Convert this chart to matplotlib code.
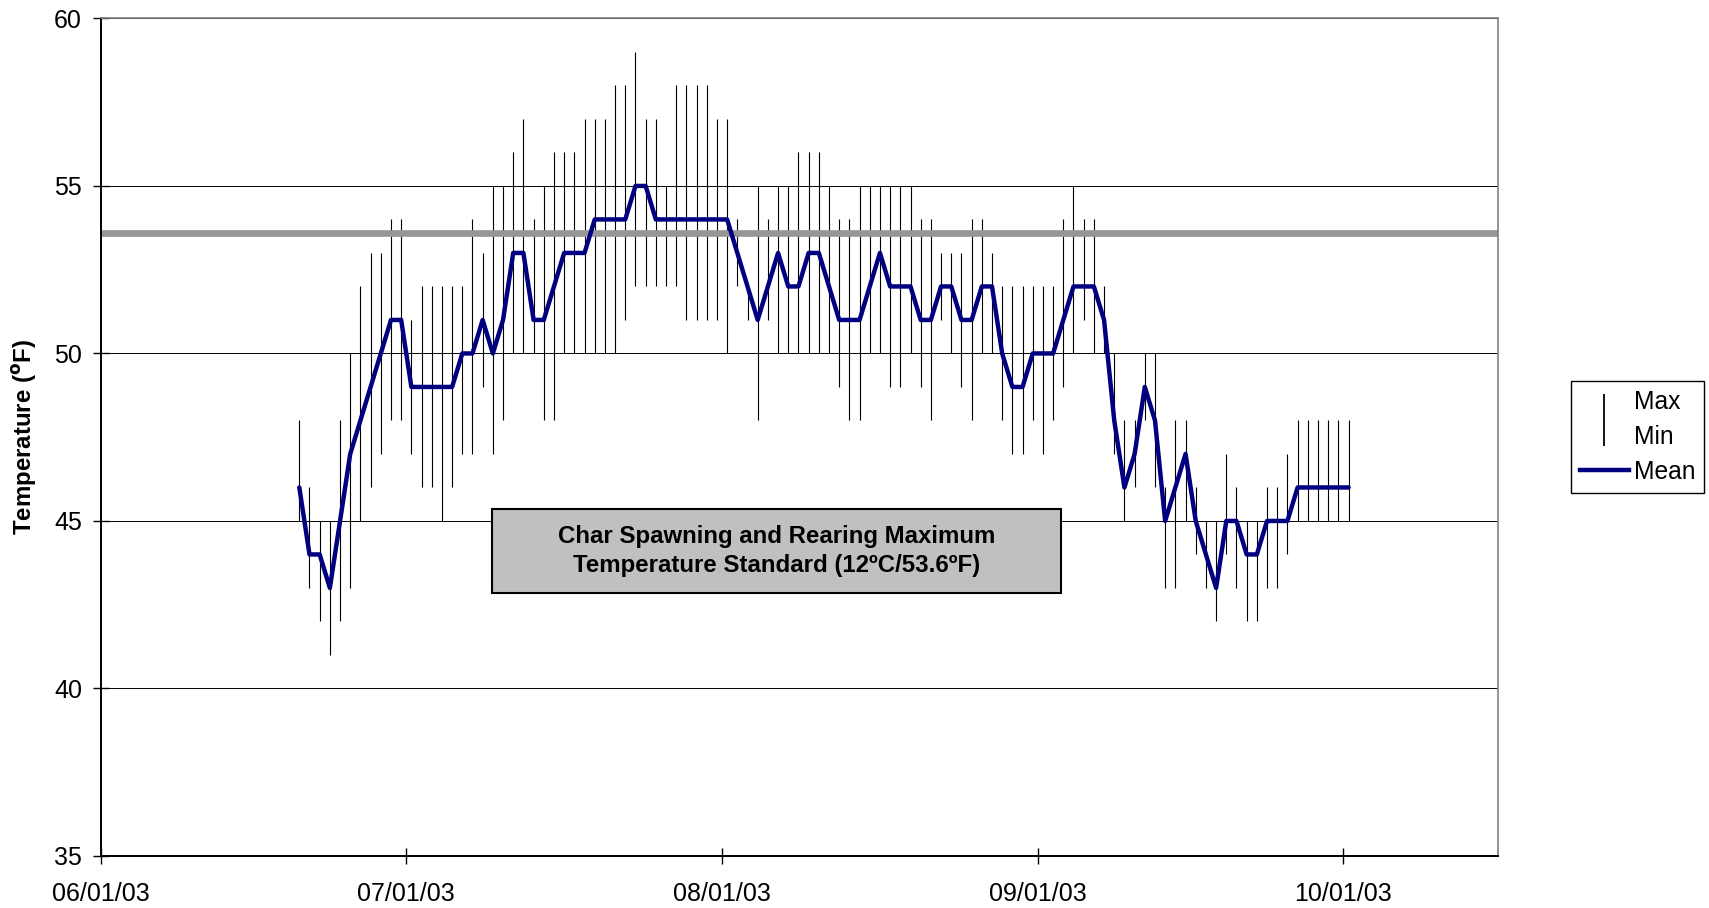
import numpy as np
import pandas as pd
import matplotlib
matplotlib.use('Agg')
import matplotlib.pyplot as plt
import matplotlib.dates as mdates
from matplotlib.lines import Line2D
from matplotlib.patches import Rectangle

plt.rcParams['font.family'] = ['Liberation Sans', 'DejaVu Sans']

# daily water temperatures (deg F), 06/20/03 - 10/01/03
start_date = '2003-06-20 12:00'
max_temp = [48, 46, 45, 45, 48, 50, 52, 53, 53, 54,
            54, 51, 52, 52, 52, 52, 52, 54, 53, 55,
            55, 56, 57, 54, 55, 56, 56, 56, 57, 57,
            57, 58, 58, 59, 57, 57, 55, 58, 58, 58,
            58, 57, 57, 54, 52, 55, 54, 55, 55, 56,
            56, 56, 55, 54, 54, 55, 55, 55, 55, 55,
            55, 54, 54, 53, 53, 53, 54, 54, 53, 52,
            52, 52, 52, 52, 52, 54, 55, 54, 54, 52,
            50, 48, 48, 50, 50, 46, 48, 48, 46, 45,
            45, 47, 46, 45, 45, 46, 46, 47, 48, 48,
            48, 48, 48, 48]
min_temp = [45, 43, 42, 41, 42, 43, 45, 46, 47, 48,
            48, 47, 46, 46, 45, 46, 47, 47, 49, 47,
            48, 50, 50, 50, 48, 48, 50, 50, 50, 50,
            50, 50, 51, 52, 52, 52, 52, 52, 51, 51,
            51, 51, 50, 52, 51, 48, 51, 50, 50, 50,
            50, 50, 50, 49, 48, 48, 50, 50, 49, 49,
            50, 49, 48, 51, 50, 49, 48, 50, 50, 48,
            47, 47, 48, 47, 48, 49, 50, 51, 50, 50,
            47, 45, 46, 48, 46, 43, 43, 45, 44, 43,
            42, 44, 43, 42, 42, 43, 43, 44, 45, 45,
            45, 45, 45, 45]
mean_temp = [46, 44, 44, 43, 45, 47, 48, 49, 50, 51,
             51, 49, 49, 49, 49, 49, 50, 50, 51, 50,
             51, 53, 53, 51, 51, 52, 53, 53, 53, 54,
             54, 54, 54, 55, 55, 54, 54, 54, 54, 54,
             54, 54, 54, 53, 52, 51, 52, 53, 52, 52,
             53, 53, 52, 51, 51, 51, 52, 53, 52, 52,
             52, 51, 51, 52, 52, 51, 51, 52, 52, 50,
             49, 49, 50, 50, 50, 51, 52, 52, 52, 51,
             48, 46, 47, 49, 48, 45, 46, 47, 45, 44,
             43, 45, 45, 44, 44, 45, 45, 45, 46, 46,
             46, 46, 46, 46]
standard_f = 53.6
standard_label = 'Char Spawning and Rearing Maximum\nTemperature Standard (12ºC/53.6ºF)'
month_ticks = ['2003-06-01', '2003-07-01', '2003-08-01', '2003-09-01', '2003-10-01']

dates = pd.date_range(start_date, periods=len(mean_temp), freq='D')

fig = plt.figure(figsize=(17.09, 9.08), dpi=100)
ax = fig.add_axes([0.0589, 0.0573, 0.8178, 0.9224])

# hi-lo bars, standard line, mean line
ax.vlines(dates, min_temp, max_temp, color='black', lw=0.8, zorder=2)
ax.axhline(standard_f, color='#969696', lw=4.8, zorder=2.5)
ax.plot(dates, mean_temp, color='#000080', lw=3.2, zorder=3,
        solid_joinstyle='round', solid_capstyle='round')

ax.set_ylim(35, 60)
ax.set_yticks(range(35, 61, 5))
x0 = pd.Timestamp('2003-06-01')
ax.set_xlim(x0, x0 + pd.Timedelta(days=137.2))
ax.set_xticks(pd.to_datetime(month_ticks))
ax.xaxis.set_major_formatter(mdates.DateFormatter('%m/%d/%y'))
ax.yaxis.grid(True, color='black', lw=0.7)
ax.set_axisbelow(True)

ax.tick_params(axis='both', direction='inout', length=11, width=1, labelsize=18)
ax.tick_params(axis='x', pad=13.5)
ax.tick_params(axis='y', pad=8)
for s in ['left', 'bottom']:
    ax.spines[s].set_linewidth(1.4)
for s in ['top', 'right']:
    ax.spines[s].set_color('#808080')
    ax.spines[s].set_linewidth(1.2)

ax.set_ylabel(r'Temperature ($\mathbf{^o}$F)', fontsize=17.3, fontweight='bold')
ax.yaxis.set_label_coords(-0.044, 0.5)

# standard annotation box
ax.add_patch(Rectangle((0.280, 0.314), 0.407, 0.100, transform=ax.transAxes,
                       facecolor='#C0C0C0', edgecolor='black', lw=1.5, zorder=4))
ax.text(0.4835, 0.364, standard_label, transform=ax.transAxes, ha='center', va='center',
        fontsize=17.3, fontweight='bold', linespacing=1.35, zorder=5)

handles = [Line2D([], [], color='black', marker='|', markersize=38, markeredgewidth=1.3,
                  linestyle='None'),
           Line2D([], [], color='#000080', lw=3.2)]
leg = fig.legend(handles, ['Max\nMin', 'Mean'], loc='upper left',
                 bbox_to_anchor=(1571 / 1709, 1 - 381 / 908), fontsize=17.7,
                 frameon=True, fancybox=False, edgecolor='black', framealpha=1,
                 handlelength=2.0, handletextpad=0.2, borderpad=0.35,
                 labelspacing=0.45, borderaxespad=0)
leg.get_frame().set_linewidth(1.0)
for t in leg.get_texts():
    t.set_linespacing(1.6)

fig.savefig('out.png', dpi=100)
